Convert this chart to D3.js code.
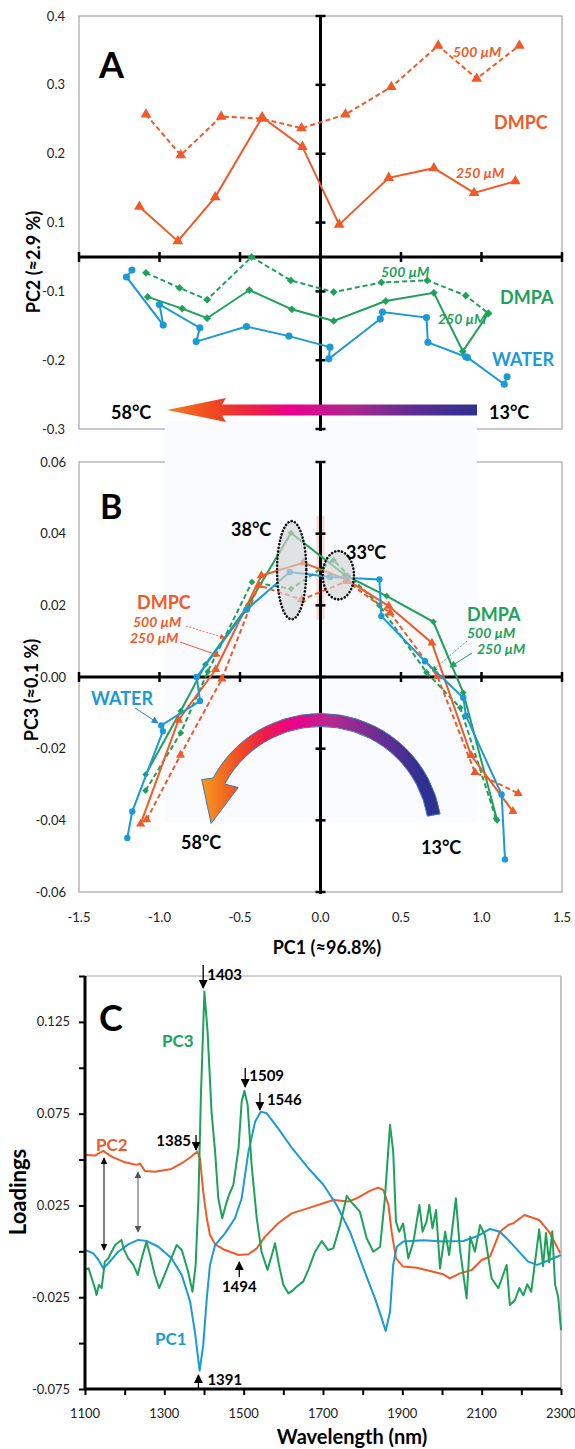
<!DOCTYPE html>
<html>
<head>
<meta charset="utf-8">
<script src="https://cdn.jsdelivr.net/npm/d3@7"></script>
<style>
  body { margin: 0; background: #fff; }
  svg { display: block; }
  text { font-family: Lato, "Open Sans", sans-serif; }
</style>
</head>
<body>
<svg id="chart"></svg>
<script>
// ---- tick values ----
const pc1Ticks = [-1.5, -1.0, -0.5, 0.0, 0.5, 1.0, 1.5];
const pc2Ticks = [0.4, 0.3, 0.2, 0.1, -0.1, -0.2, -0.3];
const pc3Ticks = [0.06, 0.04, 0.02, 0.00, -0.02, -0.04, -0.06];
const loadingTicks = [0.15, 0.125, 0.1, 0.075, 0.05, 0.025, 0, -0.025, -0.05, -0.075];
const loadingLabels = [0.125, 0.075, 0.025, -0.025, -0.075];
const wlTicks = [1100, 1200, 1300, 1400, 1500, 1600, 1700, 1800, 1900, 2000, 2100, 2200, 2300];
const wlLabels = [1100, 1300, 1500, 1700, 1900, 2100, 2300];

// ---- panel A : [PC1, PC2] ----
const aDmpc500 = [[-1.084,0.257],[-0.868,0.198],[-0.617,0.254],[-0.367,0.251],[-0.118,0.237],[0.155,0.257],[0.440,0.297],[0.731,0.357],[0.970,0.309],[1.235,0.357]];
const aDmpc250 = [[-1.125,0.123],[-0.886,0.073],[-0.654,0.137],[-0.362,0.253],[-0.112,0.210],[0.116,0.097],[0.424,0.165],[0.704,0.179],[0.954,0.143],[1.210,0.160]];
const aDmpa500 = [[-1.084,-0.073],[-0.875,-0.095],[-0.704,-0.112],[-0.428,-0.050],[-0.185,-0.084],[0.082,-0.101],[0.378,-0.087],[0.663,-0.084],[0.902,-0.106],[1.043,-0.132]];
const aDmpa250 = [[-1.073,-0.108],[-0.859,-0.125],[-0.704,-0.139],[-0.442,-0.098],[-0.178,-0.126],[0.082,-0.143],[0.405,-0.114],[0.704,-0.102],[0.884,-0.187],[1.043,-0.132]];
const aWater = [[-1.171,-0.069],[-1.205,-0.079],[-0.977,-0.149],[-1.000,-0.119],[-0.749,-0.153],[-0.772,-0.173],[-0.460,-0.151],[-0.196,-0.165],[0.059,-0.181],[0.052,-0.198],[0.371,-0.140],[0.385,-0.130],[0.658,-0.138],[0.667,-0.174],[0.902,-0.195],[0.913,-0.196],[1.141,-0.235],[1.159,-0.224]];

// ---- panel B : [PC1, PC3] ----
const bDmpc500 = [[-1.080,-0.0398],[-0.870,-0.0218],[-0.612,-0.0005],[-0.385,0.0256],[-0.117,0.0216],[0.163,0.0267],[0.432,0.0179],[0.726,0.0002],[0.959,-0.0266],[1.228,-0.0325]];
const bDmpc250 = [[-1.117,-0.0410],[-0.882,-0.0120],[-0.651,0.0021],[-0.367,0.0283],[-0.107,0.0319],[0.163,0.0272],[0.424,0.0198],[0.692,0.0095],[0.936,-0.0219],[1.195,-0.0375]];
const bDmpa500 = [[-1.087,-0.0317],[-0.868,-0.0156],[-0.700,0.0015],[-0.426,0.0265],[-0.183,0.0246],[0.080,0.0326],[0.366,0.0200],[0.658,0.0013],[0.868,-0.0086],[1.090,-0.0395]];
const bDmpa250 = [[-1.086,-0.0272],[-0.868,-0.0095],[-0.715,0.0035],[-0.450,0.0200],[-0.183,0.0402],[0.150,0.0285],[0.411,0.0226],[0.701,0.0154],[0.887,-0.0044],[1.097,-0.0400]];
const bWater = [[-1.200,-0.0449],[-1.169,-0.0375],[-0.979,-0.0151],[-0.989,-0.0135],[-0.748,-0.0067],[-0.769,0.0000],[-0.460,0.0188],[-0.191,0.0293],[0.059,0.0279],[0.366,0.0272],[0.378,0.0170],[0.649,0.0044],[0.887,-0.0058],[0.904,-0.0109],[1.125,-0.0328],[1.146,-0.0509]];

// ---- panel C : [wavelength nm, loading] ----
const pc1Load = [[1100,0.0007],[1121,-0.0011],[1134,-0.0047],[1146,-0.0092],[1159,-0.0065],[1184,-0.0002],[1209,0.0038],[1234,0.0062],[1255,0.0057],[1285,0.0025],[1318,-0.0038],[1344,-0.0129],[1365,-0.0274],[1377,-0.0438],[1389,-0.0650],[1398,-0.0511],[1407,-0.0256],[1415,-0.0075],[1428,0.0034],[1453,0.0098],[1478,0.0180],[1495,0.0289],[1512,0.0543],[1529,0.0707],[1543,0.0761],[1558,0.0752],[1587,0.0670],[1619,0.0571],[1667,0.0443],[1701,0.0363],[1734,0.0254],[1768,0.0107],[1802,-0.0093],[1831,-0.0256],[1848,-0.0365],[1858,-0.0434],[1869,-0.0329],[1877,-0.0073],[1886,0.0025],[1902,0.0053],[1953,0.0060],[2003,0.0053],[2054,0.0056],[2092,0.0085],[2121,0.0122],[2146,0.0107],[2171,0.0053],[2217,-0.0056],[2240,-0.0074],[2272,-0.0046],[2300,-0.0020]];
const pc2Load = [[1100,0.0525],[1125,0.0522],[1146,0.0547],[1167,0.0516],[1201,0.0485],[1230,0.0471],[1239,0.0478],[1251,0.0438],[1276,0.0434],[1318,0.0449],[1344,0.0480],[1365,0.0511],[1383,0.0543],[1390,0.0507],[1398,0.0325],[1407,0.0180],[1415,0.0090],[1428,0.0038],[1453,0.0007],[1487,-0.0020],[1512,-0.0016],[1533,0.0016],[1554,0.0080],[1587,0.0153],[1621,0.0207],[1667,0.0238],[1726,0.0280],[1764,0.0271],[1785,0.0289],[1818,0.0329],[1839,0.0347],[1852,0.0334],[1865,0.0253],[1873,0.0107],[1884,-0.0038],[1902,-0.0083],[1936,-0.0089],[1970,-0.0107],[2003,-0.0125],[2020,-0.0147],[2045,-0.0120],[2075,-0.0102],[2100,-0.0047],[2121,-0.0029],[2146,0.0107],[2167,0.0144],[2180,0.0153],[2208,0.0198],[2245,0.0171],[2272,0.0100],[2298,-0.0010]];
const pc3Load = [[1100,-0.0101],[1109,-0.0092],[1117,-0.0147],[1125,-0.0201],[1129,-0.0238],[1135,-0.0183],[1142,-0.0201],[1150,-0.0056],[1159,-0.0038],[1167,-0.0002],[1176,0.0034],[1192,0.0062],[1197,0.0016],[1209,-0.0038],[1222,-0.0074],[1233,-0.0129],[1243,-0.0038],[1255,0.0053],[1264,-0.0020],[1276,-0.0129],[1287,-0.0201],[1297,-0.0147],[1314,-0.0056],[1331,0.0034],[1344,0.0007],[1360,-0.0111],[1371,-0.0220],[1379,-0.0074],[1386,0.0289],[1392,0.0834],[1401,0.1415],[1409,0.1197],[1419,0.0761],[1428,0.0543],[1436,0.0289],[1446,0.0180],[1455,0.0253],[1463,0.0307],[1474,0.0362],[1487,0.0561],[1495,0.0816],[1502,0.0874],[1510,0.0798],[1520,0.0471],[1533,0.0180],[1545,-0.0002],[1560,-0.0101],[1571,-0.0020],[1579,0.0044],[1589,-0.0074],[1600,-0.0183],[1613,-0.0229],[1625,-0.0211],[1634,-0.0192],[1650,-0.0165],[1663,-0.0101],[1680,-0.0002],[1697,0.0056],[1713,0.0007],[1726,0.0016],[1743,0.0143],[1760,0.0303],[1772,0.0267],[1793,0.0216],[1810,0.0071],[1827,-0.0002],[1844,0.0025],[1856,0.0289],[1869,0.0689],[1877,0.0543],[1884,0.0162],[1892,0.0107],[1902,0.0152],[1915,-0.0038],[1928,0.0053],[1943,0.0253],[1951,0.0107],[1961,0.0162],[1968,0.0253],[1976,0.0125],[1985,0.0225],[1995,-0.0093],[2008,0.0107],[2018,-0.0020],[2029,0.0180],[2035,0.0289],[2045,0.0016],[2062,-0.0256],[2071,0.0080],[2083,-0.0002],[2096,0.0143],[2108,0.0089],[2125,-0.0147],[2142,-0.0201],[2163,-0.0074],[2171,-0.0292],[2184,-0.0265],[2195,-0.0200],[2205,-0.0240],[2215,-0.0180],[2225,-0.0220],[2235,-0.0050],[2245,0.0120],[2255,-0.0080],[2262,0.0100],[2270,-0.0060],[2278,0.0110],[2285,-0.0180],[2293,-0.0250],[2300,-0.0430]];

const ORANGE = '#f05a28', GREEN = '#1ea15a', BLUE = '#1b9ad6';

const svg = d3.select('#chart').attr('width', 575).attr('height', 1449);
svg.append('rect').attr('width', 575).attr('height', 1449).attr('fill', '#fff');
const defs = svg.append('defs');

function arrowMarker(id, color, size) {
  defs.append('marker').attr('id', id).attr('viewBox', '0 0 10 10')
    .attr('refX', 9).attr('refY', 5).attr('markerWidth', size).attr('markerHeight', size)
    .attr('orient', 'auto-start-reverse')
    .append('path').attr('d', 'M0,0L10,5L0,10z').attr('fill', color);
}
arrowMarker('ahBlack', '#000', 7);
arrowMarker('ahGray', '#555', 7);
arrowMarker('ahOrange', ORANGE, 7);
arrowMarker('ahGreen', GREEN, 7);
arrowMarker('ahBlue', '#2a85c0', 7);

function hGradient(id, x1, x2, stops) {
  const g = defs.append('linearGradient').attr('id', id).attr('gradientUnits', 'userSpaceOnUse')
    .attr('x1', x1).attr('x2', x2).attr('y1', 0).attr('y2', 0);
  stops.forEach(s => g.append('stop').attr('offset', s[0]).attr('stop-color', s[1]));
}
hGradient('gradA', 167, 477, [[0, '#f47b20'], [0.18, '#ef3e24'], [0.3, '#ed1a4f'], [0.4, '#ec008c'], [0.6, '#a8298f'], [0.8, '#5c2d91'], [1, '#2e3192']]);
hGradient('gradB', 205, 445, [[0, '#f7941d'], [0.14, '#f04e23'], [0.25, '#ed1c4a'], [0.37, '#ec008c'], [0.52, '#b8288f'], [0.68, '#7a2d91'], [0.9, '#2e3192']]);

function label(txt, x, y, o = {}) {
  return svg.append('text').attr('x', x).attr('y', y).attr('dy', '0.35em')
    .attr('font-size', o.size || 14).attr('font-weight', o.weight || 'bold')
    .attr('font-style', o.italic ? 'italic' : null)
    .attr('fill', o.color || '#000').attr('text-anchor', o.anchor || 'start')
    .attr('transform', o.rotate ? `rotate(${o.rotate},${x},${y})` : null)
    .text(txt);
}

function drawSeries(g, x, y, s, sizes) {
  const line = d3.line().x(d => x(d[0])).y(d => y(d[1]));
  g.append('path').datum(s.data).attr('d', line).attr('fill', 'none')
    .attr('stroke', s.color).attr('stroke-width', 2)
    .attr('stroke-dasharray', s.dash ? '5,3' : null);
  const type = s.sym === 'tri' ? d3.symbolTriangle : s.sym === 'dia' ? d3.symbolSquare : d3.symbolCircle;
  g.selectAll(null).data(s.data).join('path')
    .attr('transform', d => `translate(${x(d[0])},${y(d[1])})` + (s.sym === 'dia' ? ' rotate(45)' : ''))
    .attr('d', d3.symbol().type(type).size(sizes[s.sym]))
    .attr('fill', s.color);
}

// cross-shaped axes through the origin with tick marks on both sides
function crossAxes(g, x, y, xTicks, yTicks, xAt, yAt) {
  const [xl, xr] = x.range();
  const yr = y.range();
  const yb = d3.max(yr), yt = d3.min(yr);
  g.append('line').attr('x1', xl).attr('x2', xr).attr('y1', yAt).attr('y2', yAt)
    .attr('stroke', '#000').attr('stroke-width', 3);
  g.append('line').attr('x1', xAt).attr('x2', xAt).attr('y1', yt).attr('y2', yb + 2)
    .attr('stroke', '#000').attr('stroke-width', 3);
  g.selectAll(null).data(xTicks).join('line')
    .attr('x1', d => x(d)).attr('x2', d => x(d)).attr('y1', yAt - 5).attr('y2', yAt + 5)
    .attr('stroke', '#000').attr('stroke-width', 2.5);
  g.selectAll(null).data(yTicks).join('line')
    .attr('y1', d => y(d)).attr('y2', d => y(d)).attr('x1', xAt - 5).attr('x2', xAt + 5)
    .attr('stroke', '#000').attr('stroke-width', 2.5);
}

// ================= panel A =================
const xA = d3.scaleLinear().domain([-1.5, 1.5]).range([79, 562]);
// broken axis: 0.05 and -0.05 meet at the horizontal axis
const yA = d3.scaleLinear().domain([-0.3, -0.05, 0.05, 0.4]).range([429, 257, 257, 16]);
const gA = svg.append('g');
gA.append('rect').attr('x', 79).attr('y', 16).attr('width', 483).attr('height', 413)
  .attr('fill', 'none').attr('stroke', '#a6a6a6').attr('stroke-width', 1.2);
const gB = svg.append('g');
const xB = d3.scaleLinear().domain([-1.5, 1.5]).range([79, 562]);
const yB = d3.scaleLinear().domain([-0.06, 0.06]).range([892, 462]);
gB.append('rect').attr('x', 79).attr('y', 462).attr('width', 483).attr('height', 430)
  .attr('fill', 'none').attr('stroke', '#a6a6a6').attr('stroke-width', 1.2);
// pasted light background behind the temperature arrows
svg.append('rect').attr('x', 165).attr('y', 421).attr('width', 312).attr('height', 401).attr('fill', '#fafbfe');

const gA2 = svg.append('g');
crossAxes(gA2, xA, yA, pc1Ticks.filter(d => d !== 0), pc2Ticks, xA(0), yA(0));
gA2.selectAll(null).data(pc2Ticks).join('text')
  .attr('x', 65).attr('y', d => yA(d)).attr('dy', '0.35em').attr('text-anchor', 'end')
  .attr('font-size', 13).attr('fill', '#222').text(d => d.toFixed(1));

const aSeries = [
  { data: aDmpc500, color: ORANGE, dash: true, sym: 'tri' },
  { data: aDmpc250, color: ORANGE, dash: false, sym: 'tri' },
  { data: aDmpa500, color: GREEN, dash: true, sym: 'dia' },
  { data: aDmpa250, color: GREEN, dash: false, sym: 'dia' },
  { data: aWater, color: BLUE, dash: false, sym: 'cir' }
];
aSeries.forEach(s => drawSeries(gA2, xA, yA, s, { tri: 50, dia: 30, cir: 40 }));

// temperature arrow A
gA2.append('path')
  .attr('d', 'M167,410 L226,398 L222,404.5 L477,404.5 L477,415.5 L222,415.5 L226,422 Z')
  .attr('fill', 'url(#gradA)');

label('A', 99, 65, { size: 36 });
label('500 µM', 453, 52, { color: ORANGE, italic: true });
label('250 µM', 456, 173, { color: ORANGE, italic: true });
label('DMPC', 494, 123, { color: ORANGE, size: 18 });
label('500 µM', 381, 272, { color: GREEN, italic: true });
label('DMPA', 500, 298, { color: GREEN, size: 18 });
label('250 µM', 438, 319, { color: GREEN, italic: true });
label('WATER', 492, 360, { color: BLUE, size: 18 });
label('58°C', 111, 413, { size: 18 });
label('13°C', 489, 413, { size: 18 });
label('PC2 (≈2.9 %)', 34, 262, { size: 18, anchor: 'middle', rotate: -90 });

// ================= panel B =================
const gB2 = svg.append('g');
gB2.append('rect').attr('x', xB(0) - 4).attr('y', yB(0.045)).attr('width', 8)
  .attr('height', yB(0.016) - yB(0.045)).attr('fill', '#f6dbd1');
crossAxes(gB2, xB, yB, pc1Ticks.filter(d => d !== 0), pc3Ticks, xB(0), yB(0));
gB2.selectAll(null).data(pc3Ticks).join('text')
  .attr('x', 66).attr('y', d => yB(d)).attr('dy', '0.35em').attr('text-anchor', 'end')
  .attr('font-size', 13).attr('fill', '#222').text(d => d.toFixed(2));
gB2.selectAll(null).data(pc1Ticks).join('text')
  .attr('x', d => xB(d)).attr('y', 917).attr('dy', '0.35em').attr('text-anchor', 'middle')
  .attr('font-size', 13).attr('fill', '#222').text(d => d.toFixed(1));

const bSeries = [
  { data: bDmpa500, color: GREEN, dash: true, sym: 'dia' },
  { data: bDmpa250, color: GREEN, dash: false, sym: 'dia' },
  { data: bDmpc500, color: ORANGE, dash: true, sym: 'tri' },
  { data: bDmpc250, color: ORANGE, dash: false, sym: 'tri' },
  { data: bWater, color: BLUE, dash: false, sym: 'cir' }
];
bSeries.forEach(s => drawSeries(gB2, xB, yB, s, { tri: 36, dia: 22, cir: 32 }));

// grey ellipses marking 38 °C and 33 °C
[[-0.179, 0.0298, 0.091, 0.0137], [0.111, 0.0284, 0.097, 0.00675]].forEach(e => {
  gB2.append('ellipse').attr('cx', xB(e[0])).attr('cy', yB(e[1]))
    .attr('rx', xB(e[2]) - xB(0)).attr('ry', yB(0) - yB(e[3]))
    .attr('fill', '#d4d4d4').attr('fill-opacity', 0.65)
    .attr('stroke', '#111').attr('stroke-width', 2.6)
    .attr('stroke-dasharray', '0.1,3.4').attr('stroke-linecap', 'round');
});

// curved temperature arrow B
const cB = [320.5, 835];
const pol = (r, a) => [cB[0] + r * Math.cos(a * Math.PI / 180), cB[1] - r * Math.sin(a * Math.PI / 180)];
const Ro = 121.5, Ri = 108.5, a0 = 10, a1 = 152;
const arcPath = `M${pol(Ro, a0)} A${Ro},${Ro} 0 0 0 ${pol(Ro, a1)} L${pol(131, 155)} L${pol(110, 174)} L${pol(95, 150)} L${pol(Ri, a1)} A${Ri},${Ri} 0 0 1 ${pol(Ri, a0)} Z`;
gB2.append('path').attr('d', arcPath).attr('fill', 'url(#gradB)')
  .attr('stroke', '#3f78b5').attr('stroke-width', 1);

label('B', 100, 507, { size: 34 });
label('38°C', 231, 530, { size: 18 });
label('33°C', 346, 553, { size: 18 });
label('DMPC', 137, 603, { color: ORANGE, size: 18 });
label('500 µM', 133, 622, { color: ORANGE, italic: true });
label('250 µM', 130, 638, { color: ORANGE, italic: true });
label('DMPA', 467, 615, { color: GREEN, size: 18 });
label('500 µM', 467, 633, { color: GREEN, italic: true });
label('250 µM', 477, 649, { color: GREEN, italic: true });
label('WATER', 91, 699, { color: BLUE, size: 18 });
label('58°C', 181, 843, { size: 18 });
label('13°C', 421, 848, { size: 18 });
label('PC3 (≈0.1 %)', 32, 690, { size: 18, anchor: 'middle', rotate: -90 });
label('PC1 (≈96.8%)', 327, 948, { size: 18, anchor: 'middle' });

// pointer arrows for B labels
svg.append('line').attr('x1', 186).attr('y1', 626).attr('x2', 225).attr('y2', 638)
  .attr('stroke', ORANGE).attr('stroke-width', 0.8).attr('stroke-dasharray', '2,1.5').attr('marker-end', 'url(#ahOrange)');
svg.append('line').attr('x1', 180).attr('y1', 642).attr('x2', 220).attr('y2', 656)
  .attr('stroke', ORANGE).attr('stroke-width', 1).attr('marker-end', 'url(#ahOrange)');
svg.append('line').attr('x1', 467).attr('y1', 641).attr('x2', 432).attr('y2', 671)
  .attr('stroke', GREEN).attr('stroke-width', 0.8).attr('stroke-dasharray', '2,1.5').attr('marker-end', 'url(#ahGreen)');
svg.append('line').attr('x1', 472).attr('y1', 653).attr('x2', 450).attr('y2', 667)
  .attr('stroke', GREEN).attr('stroke-width', 1).attr('marker-end', 'url(#ahGreen)');
svg.append('line').attr('x1', 135).attr('y1', 708).attr('x2', 158).attr('y2', 723)
  .attr('stroke', '#2a85c0').attr('stroke-width', 1).attr('marker-end', 'url(#ahBlue)');

// ================= panel C =================
const xC = d3.scaleLinear().domain([1100, 2300]).range([85, 561]);
const yC = d3.scaleLinear().domain([-0.075, 0.15]).range([1389, 976]);
const gC = svg.append('g');
gC.append('line').attr('x1', 85).attr('x2', 561).attr('y1', 976).attr('y2', 976).attr('stroke', '#a6a6a6').attr('stroke-width', 1.2);
gC.append('line').attr('x1', 561).attr('x2', 561).attr('y1', 976).attr('y2', 1389).attr('stroke', '#c4c4c4').attr('stroke-width', 2);

const loadLine = d3.line().x(d => xC(d[0])).y(d => yC(d[1]));
[[pc2Load, ORANGE], [pc1Load, BLUE], [pc3Load, GREEN]].forEach(([data, c]) => {
  gC.append('path').datum(data).attr('d', loadLine).attr('fill', 'none')
    .attr('stroke', c).attr('stroke-width', 2).attr('stroke-linejoin', 'round');
});

gC.append('g').attr('transform', 'translate(85,0)')
  .call(d3.axisLeft(yC).tickValues(loadingTicks).tickSize(6).tickFormat(''))
  .call(g => g.select('.domain').attr('stroke-width', 3).attr('d', 'M0,976V1389'))
  .call(g => g.selectAll('.tick line').attr('stroke-width', 2));
gC.append('g').attr('transform', 'translate(0,1389)')
  .call(d3.axisBottom(xC).tickValues(wlTicks).tickSize(6).tickFormat(''))
  .call(g => g.select('.domain').attr('stroke-width', 3).attr('d', 'M84,0H561'))
  .call(g => g.selectAll('.tick line').attr('stroke-width', 2));
gC.selectAll(null).data(loadingLabels).join('text')
  .attr('x', 70).attr('y', d => yC(d)).attr('dy', '0.35em').attr('text-anchor', 'end')
  .attr('font-size', 13).attr('fill', '#222').text(d => d.toFixed(3));
gC.selectAll(null).data(wlLabels).join('text')
  .attr('x', d => xC(d)).attr('y', 1413).attr('dy', '0.35em').attr('text-anchor', 'middle')
  .attr('font-size', 13).attr('fill', '#222').text(d => d);

label('C', 99, 1018, { size: 36 });
label('PC3', 162, 1041, { color: GREEN, size: 17 });
label('PC2', 96, 1145, { color: ORANGE, size: 17 });
label('PC1', 155, 1339, { color: BLUE, size: 17 });
label('Loadings', 18, 1192, { size: 22, anchor: 'middle', rotate: -90 });
label('Wavelength (nm)', 352, 1437, { size: 20, anchor: 'middle' });

// band markers
const downMarks = [[1403, 965, 988, 'start', 4], [1509, 1068, 1087, 'start', 4], [1546, 1093, 1110, 'start', 7], [1385, 1135, 1150, 'end', -5]];
downMarks.forEach(([wl, y1, y2, anchor, dx]) => {
  const x = xC(wl) - 2;
  svg.append('line').attr('x1', x).attr('x2', x).attr('y1', y1).attr('y2', y2)
    .attr('stroke', '#000').attr('stroke-width', 1.3).attr('marker-end', 'url(#ahBlack)');
  label(String(wl), x + dx, (y1 + y2) / 2 - 2, { size: 15, anchor });
});
[[1494, 1277, 1262, 1287], [1391, 1390, 1375, 1380]].forEach(([wl, y1, y2, ty]) => {
  const x = xC(wl) - 2;
  svg.append('line').attr('x1', x).attr('x2', x).attr('y1', y1).attr('y2', y2)
    .attr('stroke', '#000').attr('stroke-width', 1.3).attr('marker-end', 'url(#ahBlack)');
  if (wl === 1494) label('1494', x, ty, { size: 15, anchor: 'middle' });
  else label('1391', x + 9, ty, { size: 15 });
});
svg.append('line').attr('x1', 104).attr('x2', 104).attr('y1', 1158).attr('y2', 1250)
  .attr('stroke', '#000').attr('stroke-width', 1).attr('marker-start', 'url(#ahBlack)').attr('marker-end', 'url(#ahBlack)');
svg.append('line').attr('x1', 138).attr('x2', 138).attr('y1', 1172).attr('y2', 1232)
  .attr('stroke', '#555').attr('stroke-width', 1).attr('marker-start', 'url(#ahGray)').attr('marker-end', 'url(#ahGray)');
</script>
</body>
</html>
